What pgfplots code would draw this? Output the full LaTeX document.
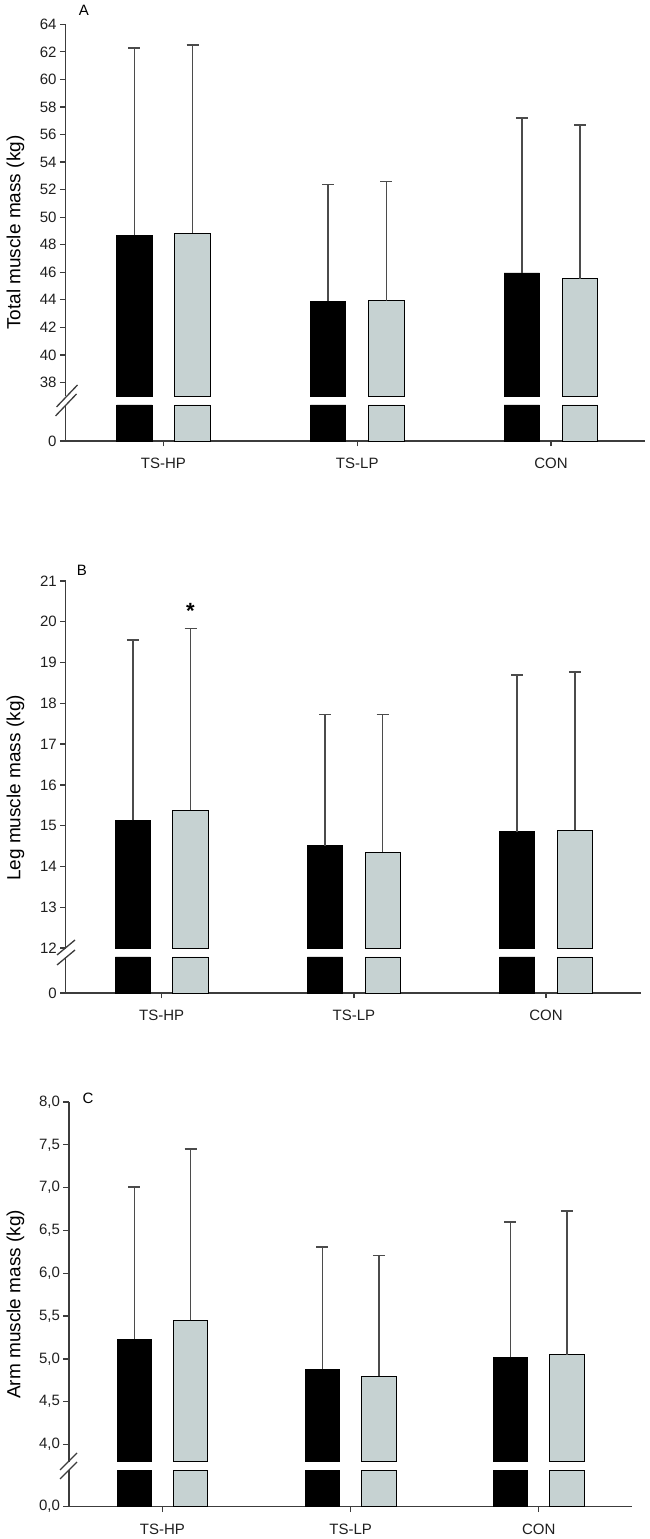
\documentclass[border=0pt]{standalone}
\usepackage{pgfplots}
\usepackage{pgfplotstable}
\pgfplotsset{compat=1.18}
\usepackage{fontspec}
\setmainfont{Liberation Sans}
\definecolor{barg}{RGB}{198,210,210}
\definecolor{axg}{RGB}{60,60,60}
\definecolor{errg}{RGB}{75,75,75}

% panel A: total muscle mass
\pgfplotstableread{
x m e
0 48.68 13.62
1 43.88 8.48
2 45.95 11.25
}\Ablack
\pgfplotstableread{
x m e
0 48.85 13.64
1 43.93 8.65
2 45.53 11.18
}\Agray
% panel B: leg muscle mass
\pgfplotstableread{
x m e
0 15.13 4.43
1 14.51 3.22
2 14.85 3.85
}\Bblack
\pgfplotstableread{
x m e
0 15.38 4.45
1 14.35 3.38
2 14.89 3.88
}\Bgray
% panel C: arm muscle mass
\pgfplotstableread{
x m e
0 5.23 1.78
1 4.88 1.43
2 5.02 1.58
}\Cblack
\pgfplotstableread{
x m e
0 5.45 2.00
1 4.80 1.41
2 5.05 1.68
}\Cgray

\pgfplotsset{
  base/.style={scale only axis, clip=false, tick align=outside,
    major tick length=5.5pt, bar width=0.183,
    axis line style={axg, line width=1.3pt},
    every tick/.style={axg, line width=1.3pt},
    ticklabel style={font=\fontsize{15}{17}\selectfont, text=black!88},
    /pgf/number format/assume math mode=true},
  up/.style={base, axis y line*=left, axis x line=none},
  low/.style={base, axis x line*=bottom, axis y line*=left, ymin=0, ymax=1,
    ytick={0}, xtick={0,1,2}, xticklabels={TS-HP,TS-LP,CON},
    xticklabel style={yshift=-8pt}},
  errs/.style={error bars/y dir=plus, error bars/y explicit,
    error bars/error bar style={errg, line width=1.5pt},
    error bars/error mark options={errg, line width=1.6pt, mark size=6pt, rotate=90}},
  blackbar/.style={ybar, bar shift=0, fill=black, draw=black, line width=0.9pt, errs},
  graybar/.style={ybar, bar shift=0, fill=barg, draw=black, line width=0.9pt, errs},
  stubk/.style={ybar, bar shift=0, fill=black, draw=black, line width=0.9pt},
  stubg/.style={ybar, bar shift=0, fill=barg, draw=black, line width=0.9pt},
}
\tikzset{brk/.style={axg, line width=1.3pt}}

\begin{document}
\begin{tikzpicture}[x=1pt,y=1pt]
\path[use as bounding box] (0,0) rectangle (650,1539);

% ---------------- Panel A ----------------
\begin{axis}[up, at={(65.5pt,1142.7pt)}, anchor=south west, width=579.5pt, height=372pt,
  xmin=-0.5058, xmax=2.4852, ymin=37, ymax=64, ytick={38,40,...,64},
  y coord trafo/.code={\pgfmathparse{#1-37}},
  y coord inv trafo/.code={\pgfmathparse{#1+37}}]
\addplot[blackbar] table[x expr=\thisrow{x}-0.15, y=m, y error plus=e] {\Ablack};
\addplot[graybar] table[x expr=\thisrow{x}+0.15, y=m, y error plus=e] {\Agray};
\end{axis}
\begin{axis}[low, at={(65.5pt,1098pt)}, anchor=south west, width=579.5pt, height=36pt,
  xmin=-0.5058, xmax=2.4852]
\addplot[stubk] coordinates {(-0.15,1) (0.85,1) (1.85,1)};
\addplot[stubg] coordinates {(0.15,1) (1.15,1) (2.15,1)};
\end{axis}
\draw[brk] (55.5,1123) -- (76.5,1145);
\draw[brk] (56.5,1132) -- (77.5,1154);
\node[font=\fontsize{15}{18}\selectfont, anchor=base] at (84,1523.3) {A};
\node[font=\fontsize{19}{22}\selectfont, rotate=90, anchor=base] at (20.5,1306.3) {Total muscle mass (kg)};

% ---------------- Panel B ----------------
\begin{axis}[up, at={(65.8pt,591pt)}, anchor=south west, width=575.2pt, height=367pt,
  xmin=-0.499, xmax=2.494, ymin=12, ymax=21, ytick={12,13,...,21},
  y coord trafo/.code={\pgfmathparse{#1-12}},
  y coord inv trafo/.code={\pgfmathparse{#1+12}}]
\addplot[blackbar] table[x expr=\thisrow{x}-0.15, y=m, y error plus=e] {\Bblack};
\addplot[graybar] table[x expr=\thisrow{x}+0.15, y=m, y error plus=e] {\Bgray};
\node[font=\bfseries\fontsize{22}{24}\selectfont, anchor=base] at (axis cs:0.15,20.08) {*};
\end{axis}
\begin{axis}[low, at={(65.8pt,546pt)}, anchor=south west, width=575.2pt, height=36pt,
  xmin=-0.499, xmax=2.494]
\addplot[stubk] coordinates {(-0.15,1) (0.85,1) (1.85,1)};
\addplot[stubg] coordinates {(0.15,1) (1.15,1) (2.15,1)};
\end{axis}
\draw[brk] (57,574) -- (75,589);
\draw[brk] (57,584) -- (75,599);
\node[font=\fontsize{15}{18}\selectfont, anchor=base] at (82,963) {B};
\node[font=\fontsize{19}{22}\selectfont, rotate=90, anchor=base] at (20.5,751) {Leg muscle mass (kg)};

% ---------------- Panel C ----------------
\begin{axis}[up, at={(69pt,77.3pt)}, anchor=south west, width=563pt, height=359.7pt,
  xmin=-0.497, xmax=2.496, ymin=3.8, ymax=8, ytick={4,4.5,...,8},
  yticklabel style={/pgf/number format/.cd, fixed, fixed zerofill, precision=1, use comma},
  y coord trafo/.code={\pgfmathparse{#1-3.8}},
  y coord inv trafo/.code={\pgfmathparse{#1+3.8}}]
\addplot[blackbar] table[x expr=\thisrow{x}-0.15, y=m, y error plus=e] {\Cblack};
\addplot[graybar] table[x expr=\thisrow{x}+0.15, y=m, y error plus=e] {\Cgray};
\end{axis}
\begin{axis}[low, at={(69pt,32.3pt)}, anchor=south west, width=563pt, height=36.4pt,
  xmin=-0.497, xmax=2.496,
  yticklabel style={/pgf/number format/.cd, fixed, fixed zerofill, precision=1, use comma}]
\addplot[stubk] coordinates {(-0.15,1) (0.85,1) (1.85,1)};
\addplot[stubg] coordinates {(0.15,1) (1.15,1) (2.15,1)};
\end{axis}
\draw[brk] (60,60) -- (77,77);
\draw[brk] (60,69) -- (77,86);
\node[font=\fontsize{15}{18}\selectfont, anchor=base] at (88,435) {C};
\node[font=\fontsize{19}{22}\selectfont, rotate=90, anchor=base] at (20.5,234.7) {Arm muscle mass (kg)};
\end{tikzpicture}
\end{document}
